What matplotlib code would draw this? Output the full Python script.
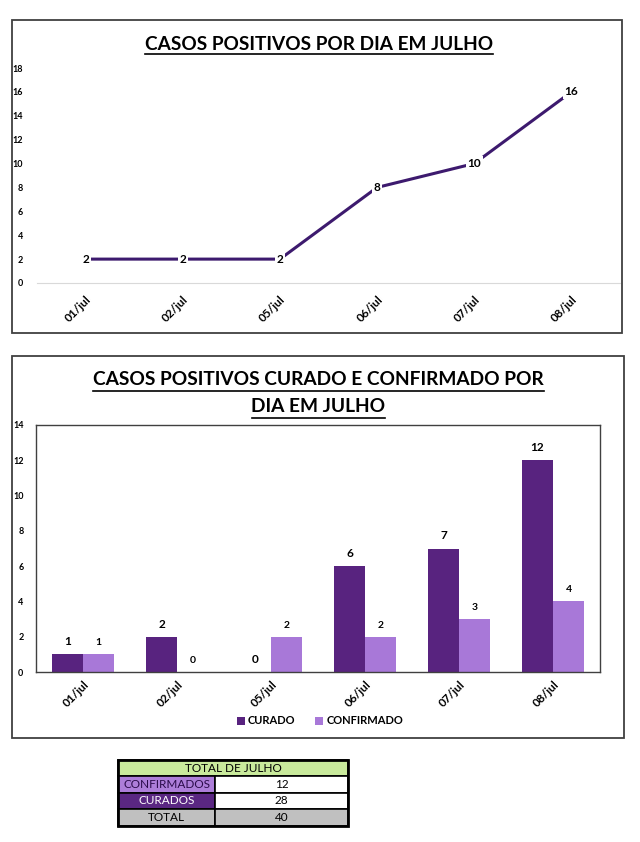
import numpy as np
import matplotlib.pyplot as plt
from matplotlib.patches import Rectangle

plt.rcParams['font.family'] = ['Lato', 'DejaVu Sans']

dias = ["01/jul", "02/jul", "05/jul", "06/jul", "07/jul", "08/jul"]
positivos = [2, 2, 2, 8, 10, 16]
curado = [1, 2, 0, 6, 7, 12]
confirmado = [1, 0, 2, 2, 3, 4]

tabela_rotulos = ["CONFIRMADOS", "CURADOS", "TOTAL"]
tabela_valores = [12, 28, 40]

cor_linha = "#3d1a6e"
cor_curado = "#58237f"
cor_confirmado = "#a878d8"

W, H = 640, 842
fig = plt.figure(figsize=(W / 100, H / 100), dpi=100)


def fx(x):
    return x / W


def fy(y):
    return 1 - y / H


def moldura(x0, y0, x1, y1):
    fig.patches.append(Rectangle((fx(x0), fy(y1)), fx(x1 - x0), (y1 - y0) / H,
                                 transform=fig.transFigure, fill=False,
                                 edgecolor="#404040", linewidth=1.3))


# ---- grafico de linha ----
moldura(12, 20, 622, 333)
fig.text(fx(319), fy(44), "CASOS POSITIVOS POR DIA EM JULHO", ha="center", va="center",
         fontsize=13.7, fontweight="bold")
fig.lines.append(plt.Line2D([fx(145), fx(493)], [fy(54), fy(54)], transform=fig.transFigure,
                            color="black", linewidth=1.2))

ax1 = fig.add_axes([fx(37), fy(283), fx(583), 215 / H])
x = np.arange(len(dias))
ax1.plot(x, positivos, color=cor_linha, linewidth=2.2)
for xi, v in zip(x, positivos):
    ax1.text(xi, v, str(v), ha="center", va="center", fontsize=8.5, fontweight="bold",
             bbox=dict(boxstyle="square,pad=0.15", facecolor="white", edgecolor="none"))
ax1.set_xlim(-0.5, len(dias) - 0.5)
ax1.set_ylim(0, 18)
ax1.set_yticks(range(0, 19, 2))
ax1.set_xticks(x)
ax1.set_xticklabels(dias, rotation=45, ha="right", rotation_mode="anchor",
                    fontsize=8.5, fontweight="bold")
for lab in ax1.get_yticklabels():
    lab.set_fontsize(6.5)
    lab.set_fontweight("bold")
for s in ["top", "right", "left"]:
    ax1.spines[s].set_visible(False)
ax1.spines["bottom"].set_color("#d9d9d9")
ax1.tick_params(length=0, pad=10)
ax1.tick_params(axis="x", pad=8)

# ---- grafico de barras ----
moldura(12, 356, 624, 738)
fig.text(fx(318), fy(380), "CASOS POSITIVOS CURADO E CONFIRMADO POR", ha="center", va="center",
         fontsize=13.8, fontweight="bold")
fig.lines.append(plt.Line2D([fx(93), fx(544)], [fy(391), fy(391)], transform=fig.transFigure,
                            color="black", linewidth=1.2))
fig.text(fx(318), fy(407), "DIA EM JULHO", ha="center", va="center",
         fontsize=13.8, fontweight="bold")
fig.lines.append(plt.Line2D([fx(252), fx(385)], [fy(418), fy(418)], transform=fig.transFigure,
                            color="black", linewidth=1.2))

ax2 = fig.add_axes([fx(36), fy(672), fx(564), 247 / H])
bw = 0.33
b1 = ax2.bar(x - bw / 2, curado, bw, color=cor_curado, label="CURADO")
b2 = ax2.bar(x + bw / 2, confirmado, bw, color=cor_confirmado, label="CONFIRMADO")
for xi, v in zip(x, curado):
    ax2.text(xi - bw / 2, v + 0.4, str(v), ha="center", va="bottom", fontsize=8.5, fontweight="bold")
for xi, v in zip(x, confirmado):
    ax2.text(xi + bw / 2, v + 0.4, str(v), ha="center", va="bottom", fontsize=7.5, fontweight="bold")
ax2.set_xlim(-0.5, len(dias) - 0.5)
ax2.set_ylim(0, 14)
ax2.set_yticks(range(0, 15, 2))
ax2.set_xticks(x)
ax2.set_xticklabels(dias, rotation=45, ha="right", rotation_mode="anchor",
                    fontsize=8.5, fontweight="bold")
for lab in ax2.get_yticklabels():
    lab.set_fontsize(6.5)
    lab.set_fontweight("bold")
for s in ax2.spines.values():
    s.set_color("#404040")
    s.set_linewidth(1)
ax2.tick_params(length=0, pad=9)
ax2.tick_params(axis="x", pad=5)
fig.legend(handles=[b1, b2], loc="center", bbox_to_anchor=(fx(320), fy(721)), ncol=2,
           frameon=False, handlelength=0.7, handleheight=0.7,
           columnspacing=1.8, handletextpad=0.3, prop=dict(weight="bold", size=8))

# ---- tabela ----
xs = [118, 215, 348]
ys = [760, 776, 793, 809, 826]


def celula(x0, y0, x1, y1, cor):
    fig.patches.append(Rectangle((fx(x0), fy(y1)), fx(x1 - x0), (y1 - y0) / H,
                                 transform=fig.transFigure, facecolor=cor,
                                 edgecolor="black", linewidth=1.2))


celula(xs[0], ys[0], xs[2], ys[1], "#c9ea9c")
fig.text(fx((xs[0] + xs[2]) / 2), fy((ys[0] + ys[1]) / 2), "TOTAL DE JULHO",
         ha="center", va="center", fontsize=8.5)
cores_rot = ["#ad7ed9", "#5a2782", "#c0c0c0"]
cores_txt = ["#2a0b4a", "white", "black"]
for i, (rot, val) in enumerate(zip(tabela_rotulos, tabela_valores)):
    y0, y1 = ys[i + 1], ys[i + 2]
    celula(xs[0], y0, xs[1], y1, cores_rot[i])
    celula(xs[1], y0, xs[2], y1, "white" if i < 2 else "#c0c0c0")
    fig.text(fx((xs[0] + xs[1]) / 2), fy((y0 + y1) / 2), rot, ha="center", va="center",
             fontsize=8.5, color=cores_txt[i])
    fig.text(fx((xs[1] + xs[2]) / 2), fy((y0 + y1) / 2), str(val), ha="center", va="center",
             fontsize=8.5)
fig.patches.append(Rectangle((fx(xs[0]), fy(ys[-1])), fx(xs[2] - xs[0]), (ys[-1] - ys[0]) / H,
                             transform=fig.transFigure, fill=False,
                             edgecolor="black", linewidth=2))

fig.savefig("out.png", dpi=100)
